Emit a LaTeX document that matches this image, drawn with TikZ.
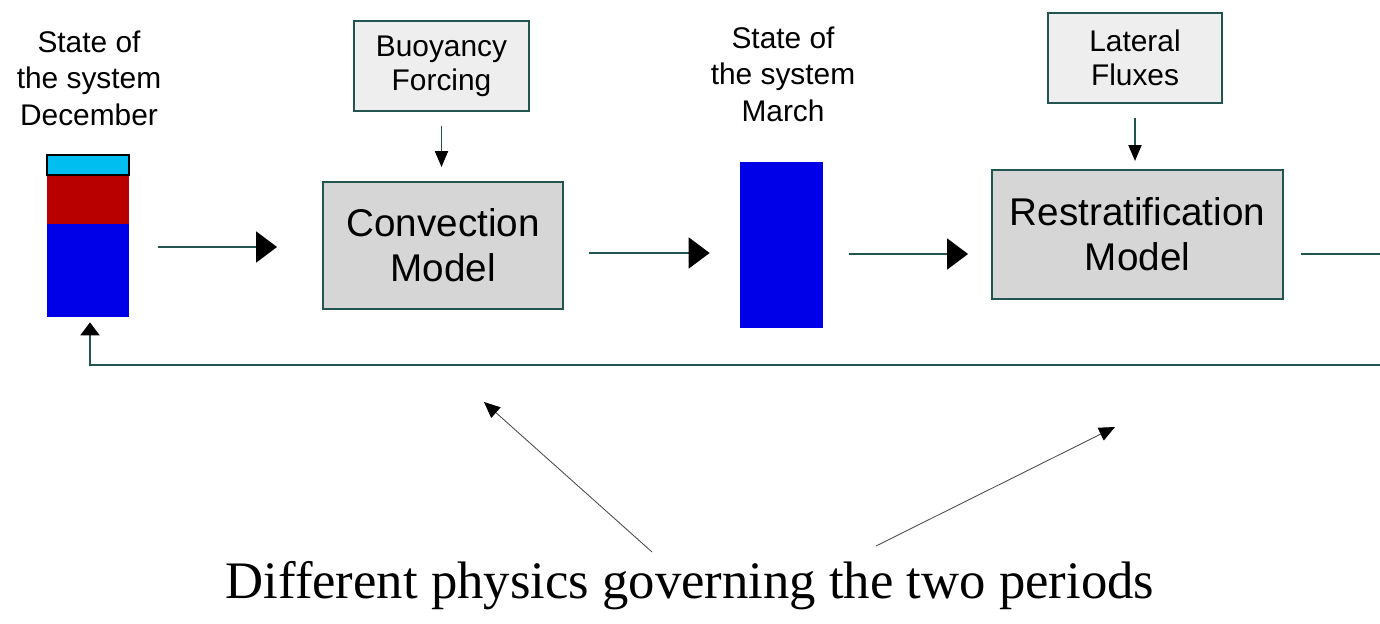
\documentclass[tikz,border=0pt]{standalone}
\usepackage{fontspec}
\setmainfont{Liberation Serif}
\setsansfont{Liberation Sans}
\usetikzlibrary{arrows.meta, calc}

\definecolor{trait}{RGB}{35,85,80}
\definecolor{gris}{RGB}{214,214,214}
\definecolor{grisclair}{RGB}{238,238,238}
\definecolor{bleu}{RGB}{0,0,232}
\definecolor{rouge}{RGB}{185,0,0}
\definecolor{ciel}{RGB}{0,190,240}

\begin{document}
\begin{tikzpicture}[x=0.02cm, y=-0.02cm,
	boite/.style={draw=trait, line width=1.1pt, fill=gris, inner sep=0pt, align=center, font=\sffamily\fontsize{22}{25.5}\selectfont},
	petiteboite/.style={draw=trait, line width=1.1pt, fill=grisclair, inner sep=0pt, align=center, font=\sffamily\fontsize{17}{19.5}\selectfont},
	etat/.style={inner sep=0pt, align=center, font=\sffamily\fontsize{17}{20.8}\selectfont},
	colonne/.style={fill=bleu, inner sep=0pt},
	fleche/.style={draw=trait, line width=1.1pt, -{Triangle[length=0.42cm, width=0.62cm, color=black]}},
	flechebas/.style={draw=trait, line width=1.1pt, -{Triangle[length=0.32cm, width=0.26cm, color=black]}},
	fine/.style={draw=gray!60!black, line width=0.5pt, -{Triangle[length=0.32cm, width=0.28cm, color=black]}}]
	\useasboundingbox (0,0) rectangle (1380,624);
	%les colonnes
	\node[colonne, minimum width=1.64cm, minimum height=3.24cm] (dec) at (88,236) {};
	\fill[rouge] (47,175) rectangle (129,224);
	\filldraw[fill=ciel, draw=black, line width=0.6pt] (47,155) rectangle (129,175);
	\node[colonne, minimum width=1.66cm, minimum height=3.32cm] (mar) at (781.5,245) {};
	%les textes
	\node[etat] (dectxt) at (89,78) {State of\\the system\\December};
	\node[etat] (martxt) at (783,74) {State of\\the system\\March};
	%les boites
	\node[petiteboite, minimum width=3.5cm, minimum height=1.8cm] (buoy) at (441.5,66) {Buoyancy\\Forcing};
	\node[boite, minimum width=4.8cm, minimum height=2.54cm] (conv) at (443,245.5) {Convection\\Model};
	\node[petiteboite, minimum width=3.48cm, minimum height=1.8cm] (lat) at (1135,58) {Lateral\\Fluxes};
	\node[boite, minimum width=5.82cm, minimum height=2.58cm] (restrat) at (1137.5,234.5) {Restratification\\Model};
	\node[inner sep=0pt, font=\fontsize{30}{36}\selectfont] (phys) at (690,586) {Different physics governing the two periods};
	%les fleches
	\draw[fleche] ($(dec.east |- conv.west)+(29,1.5)$) -- ($(conv.west)+(-45,1.5)$);
	\draw[fleche] ($(conv.east)+(25,7.5)$) -- ($(mar.west |- conv.east)+(-30,7.5)$);
	\draw[fleche] ($(mar.east)+(26,9)$) -- ($(restrat.west |- mar.east)+(-23,9)$);
	\draw[flechebas, shorten <=0.28cm, shorten >=0.28cm] (buoy.south) -- (buoy.south |- conv.north);
	\draw[flechebas, shorten <=0.28cm, shorten >=0.16cm] (lat.south) -- (lat.south |- restrat.north);
	%le retour
	\coordinate (bordA) at (1380,254);
	\coordinate (bordB) at (1380,365);
	\draw[trait, line width=1.1pt] ($(restrat.east |- bordA)+(17,0)$) -- (bordA);
	\draw[draw=trait, line width=1.1pt, -{Triangle[length=0.26cm, width=0.38cm, color=black]}, shorten >=0.1cm] (bordB) -- ($(dec.south |- bordB)+(2,0)$) -- ($(dec.south)+(2,0)$);
	%les fleches fines
	\coordinate (depart1) at (652,552);
	\coordinate (cible1) at (484,402);
	\coordinate (depart2) at (876,546);
	\coordinate (cible2) at (1115,427);
	\draw[fine] (depart1) -- (cible1);
	\draw[fine] (depart2) -- (cible2);
\end{tikzpicture}
\end{document}
